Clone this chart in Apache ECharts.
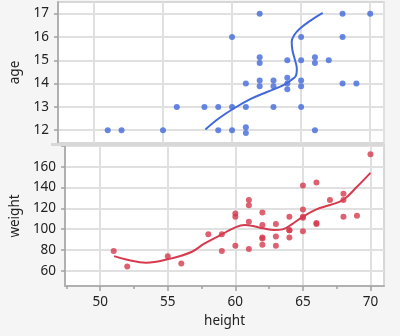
<!DOCTYPE html>
<html>
<head>
<meta charset="utf-8">
<script src="https://cdn.jsdelivr.net/npm/echarts@6/dist/echarts.min.js"></script>
<style>
html,body{margin:0;padding:0;background:#f5f5f5;}
#chart{width:400px;height:336px;}
</style>
</head>
<body>
<div id="chart"></div>
<script>
// Data (JMP Big Class style)
const heights = [59,61,55,66,52,60,61,51,60,61,56,65,63,58,59,61,62,65,63,62,63,64,65,64,68,64,69,62,64,67,65,66,62,66,65,60,68,62,68,70];
// plotted age (includes the small jitter visible for overlapping points)
const ages = [12,12.13,12,12,12,12,11.88,12,13,13,13,13,13,13,13,14,14.13,14.13,14.13,13.88,13.88,14.25,13.88,14.0,14,13.76,14,15.13,15,15,15,15.13,14.88,14.88,16,16,16,17,17,17];
const weights = [95,123,74,145,64,84,128,79,112,107,67,98,105,95,79,81,91,142,84,85,93,99,119,92,112,99,113,92,112,128,111,105,104,106,112,115,128,116,134,172];

// smoother curves
const ageCurveHeight = [58.07,59.03,60.12,61.32,62.52,63.72,64.32,64.64,64.69,64.56,64.37,64.32,64.49,64.92,65.65,66.56];
const ageCurveAge    = [12.03,12.5,12.93,13.33,13.64,13.93,14.17,14.36,14.64,15.0,15.43,15.79,16.07,16.36,16.69,17.03];
const weightCurveHeight = [51.03,52,53.4,55,56.75,57.7,58.9,60,60.7,61.3,62.04,62.88,63.5,64.2,65,66,67,67.97,69,70];
const weightCurveWeight = [74,70.5,67.7,71,78,86,94.3,101.7,103.9,103,100.8,99.1,99.8,104.9,112,119,123.2,128,140.8,154.2];

// tick labels
const xTicks = [50,55,60,65,70];
const xMinorTicks = [47.5,52.5,57.5,62.5,67.5];
const ageTicks = [12,13,14,15,16,17];
const weightTicks = [60,80,100,120,140,160];
const weightTickMarks = [60,80,100,120,140,160,180];

const BLUE = '#4169dc';
const RED = '#d63a4f';
const FONT = 'Noto Sans';
const TXT = '#222';
const gridLine = {show:true, lineStyle:{color:'#e0e0e0', width:2}};
const axLine = {show:true, onZero:false, lineStyle:{color:'#b0b0b0', width:2}};

const chart = echarts.init(document.getElementById('chart'), null, {renderer:'canvas'});
chart.setOption({
  animation:false,
  backgroundColor:'#f5f5f5',
  textStyle:{fontFamily:FONT},
  grid:[
    {left:57, top:2, width:327, height:141, show:true, backgroundColor:'#ffffff', borderColor:'#cccccc', borderWidth:1.5},
    {left:57, top:146, width:327, height:140, show:true, backgroundColor:'#ffffff', borderColor:'#cccccc', borderWidth:1.5}
  ],
  xAxis:[
    {gridIndex:0, type:'value', min:47.4, max:71, splitNumber:5,
     axisLine:{show:false}, axisTick:{show:false}, axisLabel:{show:false}, splitLine:gridLine},
    {gridIndex:1, type:'value', min:47.4, max:71, splitNumber:5, position:'bottom',
     name:'height', nameLocation:'middle', nameGap:28,
     nameTextStyle:{fontFamily:FONT, fontSize:13.5, color:TXT},
     axisLine:axLine,
     axisTick:{show:true, customValues:xTicks, length:5, lineStyle:{color:'#a0a0a0', width:1.5}},
     axisLabel:{customValues:xTicks, margin:9, fontFamily:FONT, fontSize:13.5, color:TXT},
     splitLine:gridLine},
    {gridIndex:1, type:'value', min:47.4, max:71, position:'bottom',
     axisLine:{show:false},
     axisTick:{show:true, customValues:xMinorTicks, length:3, lineStyle:{color:'#a0a0a0', width:1.5}},
     axisLabel:{show:false}, splitLine:{show:false}}
  ],
  yAxis:[
    {gridIndex:0, type:'value', min:11.45, max:17.5, splitNumber:6,
     name:'age', nameLocation:'middle', nameGap:36,
     nameTextStyle:{fontFamily:FONT, fontSize:13.5, color:TXT},
     axisLine:axLine,
     axisTick:{show:true, customValues:ageTicks, length:4, lineStyle:{color:'#a0a0a0', width:1.5}},
     axisLabel:{customValues:ageTicks, margin:9, fontFamily:FONT, fontSize:13.5, color:TXT},
     splitLine:gridLine},
    {gridIndex:1, type:'value', min:45.3, max:180, splitNumber:7,
     name:'weight', nameLocation:'middle', nameGap:36,
     nameTextStyle:{fontFamily:FONT, fontSize:13.5, color:TXT},
     axisLine:axLine,
     axisTick:{show:true, customValues:weightTickMarks, length:4, lineStyle:{color:'#a0a0a0', width:1.5}},
     axisLabel:{customValues:weightTicks, margin:9, fontFamily:FONT, fontSize:13.5, color:TXT},
     splitLine:gridLine}
  ],
  graphic:[
    {type:'rect', shape:{x:51, y:143, width:334, height:3}, style:{fill:'#d8d8d8'}, z:100}
  ],
  series:[
    {type:'scatter', xAxisIndex:0, yAxisIndex:0, symbolSize:6,
     itemStyle:{color:BLUE}, data:heights.map((h,i)=>[h, ages[i]])},
    {type:'line', xAxisIndex:0, yAxisIndex:0, showSymbol:false, smooth:0.4,
     lineStyle:{color:BLUE, width:2}, itemStyle:{color:BLUE},
     data:ageCurveHeight.map((h,i)=>[h, ageCurveAge[i]])},
    {type:'scatter', xAxisIndex:1, yAxisIndex:1, symbolSize:6,
     itemStyle:{color:RED}, data:heights.map((h,i)=>[h, weights[i]])},
    {type:'line', xAxisIndex:1, yAxisIndex:1, showSymbol:false, smooth:0.4,
     lineStyle:{color:RED, width:2}, itemStyle:{color:RED},
     data:weightCurveHeight.map((h,i)=>[h, weightCurveWeight[i]])}
  ]
});
</script>
</body>
</html>
